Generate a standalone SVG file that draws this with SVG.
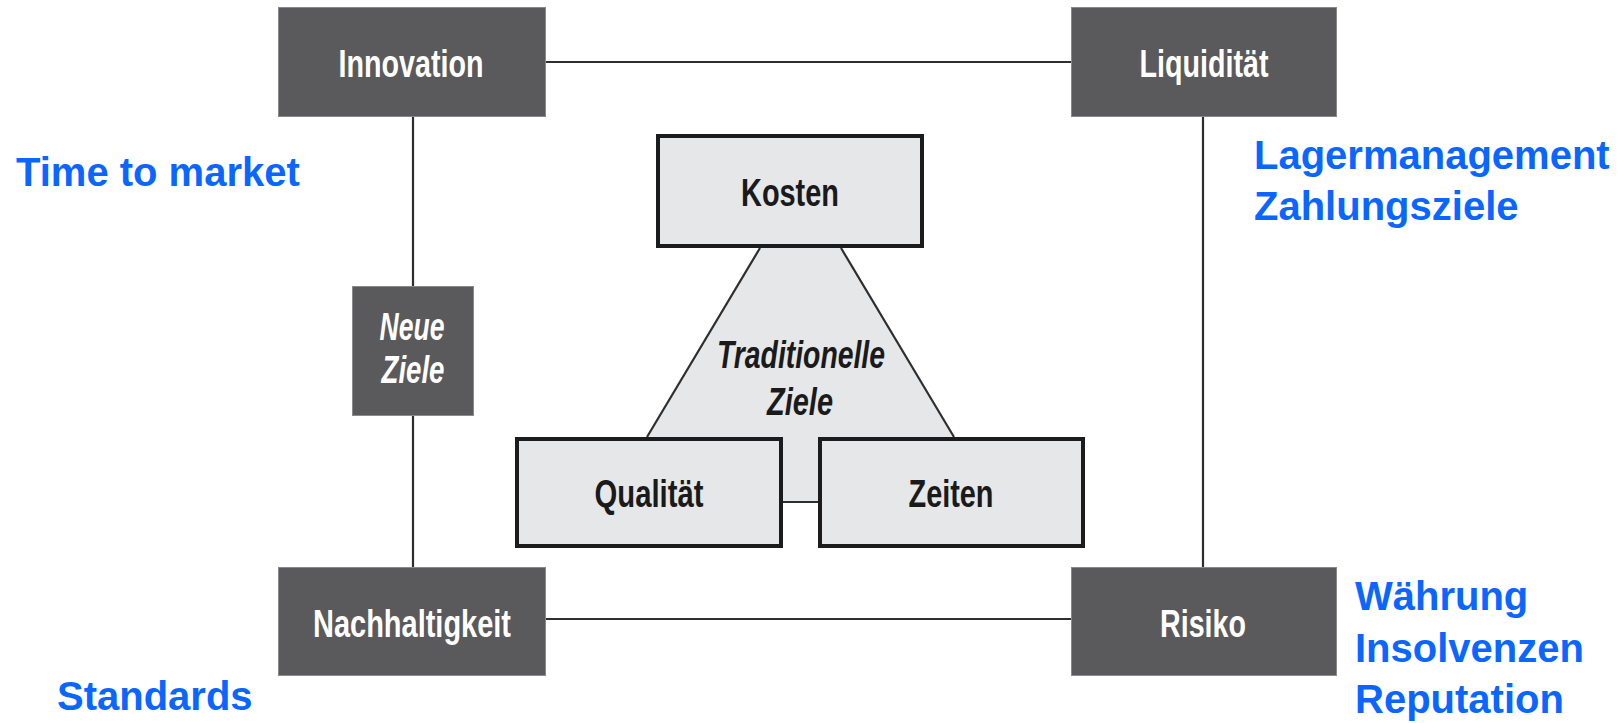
<svg xmlns="http://www.w3.org/2000/svg" width="1618" height="723" viewBox="0 0 1618 723">
  <style>
    .dark { fill: #5a595b; stroke: #8a898b; stroke-width: 1; }
    .light { fill: #e6e7e9; stroke: #1c1c1c; stroke-width: 4; }
    .wire { stroke: #2e2e2e; stroke-width: 2.2; fill: none; }
    .lbl { font-family: "Liberation Sans", Arial, sans-serif; font-weight: bold; font-size: 38px; text-anchor: middle; }
    .w { fill: #ffffff; }
    .k { fill: #1a1a1a; }
    .it { font-style: italic; }
    .note { font-family: "Liberation Sans", Arial, sans-serif; font-weight: bold; font-size: 40px; fill: #0a66ff; }
  </style>

  <!-- outer frame connectors and triangle -->
  <g id="connectors">
    <line class="wire" x1="546" y1="62" x2="1071" y2="62"/>
    <line class="wire" x1="546" y1="619" x2="1071" y2="619"/>
    <line class="wire" x1="413" y1="116" x2="413" y2="287"/>
    <line class="wire" x1="413" y1="415" x2="413" y2="567"/>
    <line class="wire" x1="1203" y1="116" x2="1203" y2="567"/>
    <polygon points="760,248 647,437 783,437 783,502 818,502 818,437 954,437 841,248" fill="#e6e7e9" stroke="none"/>
    <line class="wire" x1="760" y1="248" x2="647" y2="437"/>
    <line class="wire" x1="841" y1="248" x2="954" y2="437"/>
    <line class="wire" x1="783" y1="502" x2="818" y2="502"/>
    <text class="lbl k it" x="801" y="368" textLength="168" lengthAdjust="spacingAndGlyphs">Traditionelle</text>
    <text class="lbl k it" x="800" y="415" textLength="66" lengthAdjust="spacingAndGlyphs">Ziele</text>
  </g>

  <g id="innovation">
    <rect class="dark" x="278.5" y="7.5" width="267" height="109"/>
    <text class="lbl w" x="411" y="77" textLength="145" lengthAdjust="spacingAndGlyphs">Innovation</text>
  </g>
  <g id="liquiditaet">
    <rect class="dark" x="1071.5" y="7.5" width="265" height="109"/>
    <text class="lbl w" x="1204" y="77" textLength="129" lengthAdjust="spacingAndGlyphs">Liquidität</text>
  </g>
  <g id="nachhaltigkeit">
    <rect class="dark" x="278.5" y="567.5" width="267" height="108"/>
    <text class="lbl w" x="412" y="637" textLength="198" lengthAdjust="spacingAndGlyphs">Nachhaltigkeit</text>
  </g>
  <g id="risiko">
    <rect class="dark" x="1071.5" y="567.5" width="265" height="108"/>
    <text class="lbl w" x="1203" y="637" textLength="86" lengthAdjust="spacingAndGlyphs">Risiko</text>
  </g>
  <g id="neue-ziele">
    <rect class="dark" x="352.5" y="286.5" width="121" height="129"/>
    <text class="lbl w it" x="412" y="340" textLength="65" lengthAdjust="spacingAndGlyphs">Neue</text>
    <text class="lbl w it" x="413" y="383" textLength="63" lengthAdjust="spacingAndGlyphs">Ziele</text>
  </g>

  <g id="kosten">
    <rect class="light" x="658" y="136" width="264" height="110"/>
    <text class="lbl k" x="790" y="206" textLength="98" lengthAdjust="spacingAndGlyphs">Kosten</text>
  </g>
  <g id="qualitaet">
    <rect class="light" x="517" y="439" width="264" height="107"/>
    <text class="lbl k" x="649" y="507" textLength="109" lengthAdjust="spacingAndGlyphs">Qualität</text>
  </g>
  <g id="zeiten">
    <rect class="light" x="820" y="439" width="263" height="107"/>
    <text class="lbl k" x="951" y="507" textLength="85" lengthAdjust="spacingAndGlyphs">Zeiten</text>
  </g>

  <!-- side notes -->
  <g id="notes">
    <text class="note" x="16" y="186">Time to market</text>
    <text class="note" x="1254" y="169">Lagermanagement</text>
    <text class="note" x="1254" y="220">Zahlungsziele</text>
    <text class="note" x="57" y="710">Standards</text>
    <text class="note" x="1355" y="610">Währung</text>
    <text class="note" x="1355" y="662">Insolvenzen</text>
    <text class="note" x="1355" y="713">Reputation</text>
  </g>
</svg>
